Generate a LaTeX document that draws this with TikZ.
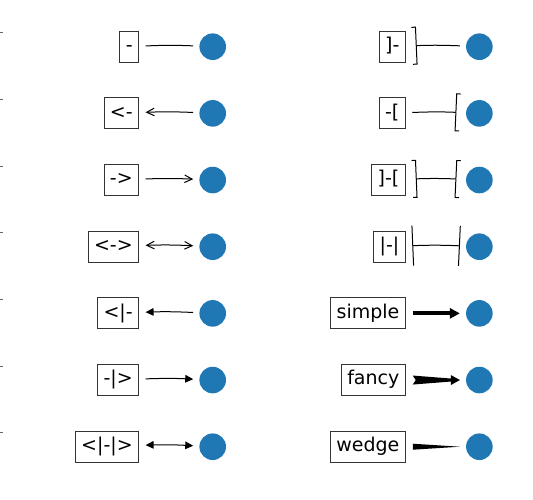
\documentclass[tikz,border=0pt]{standalone}
\usepackage{fontspec}
\setmainfont{DejaVu Sans}
\usetikzlibrary{positioning,arrows.meta,calc}
\definecolor{dotblue}{RGB}{31,119,180}

\begin{document}
\begin{tikzpicture}[
    x=1pt, y=1pt,
    dot/.style={circle, fill=dotblue, minimum size=26.6pt, inner sep=0pt},
    lbl/.style={draw=black!80, line width=0.8pt, inner xsep=6pt, inner ysep=0pt, minimum height=31pt,
      text height=14pt, text depth=4.5pt, font=\fontsize{19}{23}\selectfont, anchor=east},
    conn/.style={line width=1pt, shorten <=6.5pt, shorten >=6pt, bend left=2.5},
    node distance=66.67pt and 266.67pt, on grid
  ]
  \useasboundingbox (0,0) rectangle (533,500);
  % leftover axis ticks
  \foreach \k in {0,...,6}
    \draw[black!60, line width=0.6pt] (0,467.3-66.67*\k) -- (2.5,467.3-66.67*\k);

  % target points
  \node[dot] at (212.7,453.3) (p1) {};
  \node[dot, below=of p1] (p2) {};
  \node[dot, below=of p2] (p3) {};
  \node[dot, below=of p3] (p4) {};
  \node[dot, below=of p4] (p5) {};
  \node[dot, below=of p5] (p6) {};
  \node[dot, below=of p6] (p7) {};
  \node[dot, right=of p1] (p8) {};
  \node[dot, below=of p8] (p9) {};
  \node[dot, below=of p9] (p10) {};
  \node[dot, below=of p10] (p11) {};
  \node[dot, below=of p11] (p12) {};
  \node[dot, below=of p12] (p13) {};
  \node[dot, below=of p13] (p14) {};

  % style names
  \node[left=73.6pt of p1, lbl] (t1) {-};
  \node[left=73.6pt of p2, lbl] (t2) {<-};
  \node[left=73.6pt of p3, lbl] (t3) {->};
  \node[left=73.6pt of p4, lbl] (t4) {<->};
  \node[left=73.6pt of p5, lbl] (t5) {<|-};
  \node[left=73.6pt of p6, lbl] (t6) {-|>};
  \node[left=73.6pt of p7, lbl] (t7) {<|-|>};
  \node[left=73.6pt of p8, lbl] (t8) {]-};
  \node[left=73.6pt of p9, lbl] (t9) {-[};
  \node[left=73.6pt of p10, lbl] (t10) {]-[};
  \node[left=73.6pt of p11, lbl] (t11) {|-|};
  \node[left=73.6pt of p12, lbl] (t12) {simple};
  \node[left=73.6pt of p13, lbl] (t13) {fancy};
  \node[left=73.6pt of p14, lbl] (t14) {wedge};

  \draw[conn] (t1) to (p1);
  \draw[conn, {Straight Barb[length=7.6pt,width=7.6pt]}-] (t2) to (p2);
  \draw[conn, -{Straight Barb[length=7.6pt,width=7.6pt]}] (t3) to (p3);
  \draw[conn, {Straight Barb[length=7.6pt,width=7.6pt]}-{Straight Barb[length=7.6pt,width=7.6pt]}] (t4) to (p4);
  \draw[conn, {Triangle[length=8pt,width=7.6pt]}-] (t5) to (p5);
  \draw[conn, -{Triangle[length=8pt,width=7.6pt]}] (t6) to (p6);
  \draw[conn, {Triangle[length=8pt,width=7.6pt]}-{Triangle[length=8pt,width=7.6pt]}] (t7) to (p7);

  \draw[conn, {Bracket[reversed,width=38pt,length=4pt]}-] (t8) to (p8);
  \draw[conn, -{Bracket[reversed,width=38pt,length=4pt]}] (t9) to (p9);
  \draw[conn, {Bracket[reversed,width=38pt,length=4pt]}-{Bracket[reversed,width=38pt,length=4pt]}] (t10) to (p10);
  \draw[conn, {Bar[width=40pt]}-{Bar[width=40pt]}] (t11) to (p11);
  \draw[line width=4pt, -{Triangle[length=10pt,width=10pt]}, shorten <=7pt, shorten >=6pt] (t12) -- (p12);

  % fancy and wedge bodies
  \coordinate (fA) at ([xshift=7pt]t13.east);
  \coordinate (fB) at ([xshift=-6pt]p13.west);
  \fill ([yshift=4.5pt]fA) -- ([xshift=3pt]fA) -- ([yshift=-4.5pt]fA)
    -- ([shift={(-9,-1.5)}]fB) -- ([shift={(-9,-5)}]fB) -- (fB)
    -- ([shift={(-9,5)}]fB) -- ([shift={(-9,1.5)}]fB) -- cycle;
  \coordinate (wA) at ([xshift=7pt]t14.east);
  \coordinate (wB) at ([xshift=-6pt]p14.west);
  \fill ([yshift=3pt]wA) -- (wB) -- ([yshift=-3pt]wA) -- cycle;
\end{tikzpicture}
\end{document}
